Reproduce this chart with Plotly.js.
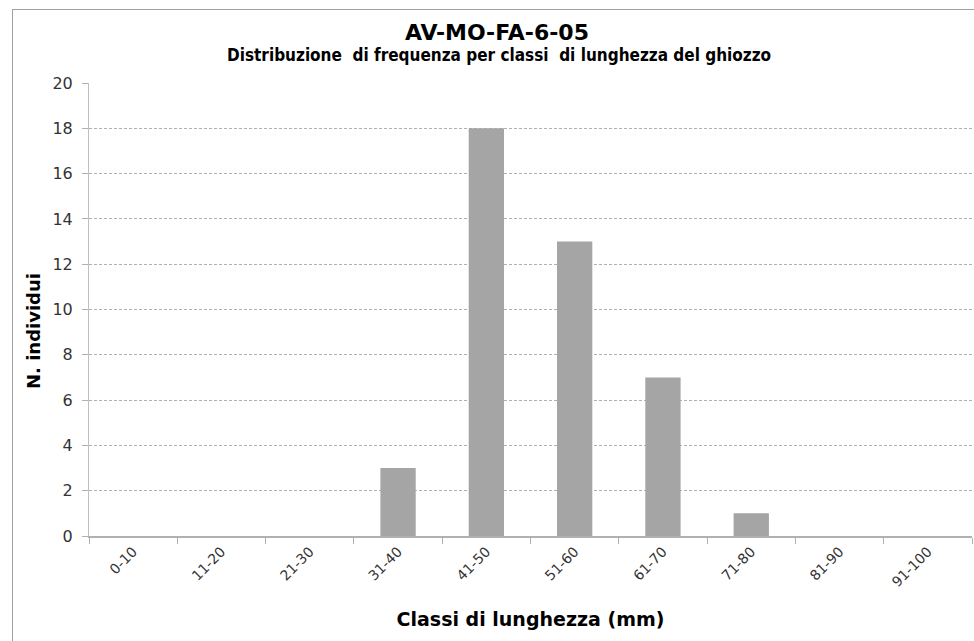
<!DOCTYPE html>
<html>
<head>
<meta charset="utf-8">
<script src="https://cdn.plot.ly/plotly-3.0.1.min.js"></script>
<style>
html,body{margin:0;padding:0;background:#fff;}
#frame{position:absolute;left:12px;top:9px;width:980px;height:650px;border-left:1px solid #a0a0a0;border-top:1px solid #a0a0a0;}
#chart{position:absolute;left:0;top:0;width:974px;height:641px;}
</style>
</head>
<body>
<div id="frame"></div>
<div id="chart"></div>
<script>
const categories = ['0-10','11-20','21-30','31-40','41-50','51-60','61-70','71-80','81-90','91-100'];
const counts = [0,0,0,3,18,13,7,1,0,0];
const titleText = 'AV-MO-FA-6-05';
const subtitleText = 'Distribuzione  di frequenza per classi  di lunghezza del ghiozzo';
const xTitle = 'Classi di lunghezza (mm)';
const yTitle = 'N. individui';

const trace = {
  type: 'bar',
  x: categories,
  y: counts,
  marker: {color: '#a5a5a5', line: {width: 0}},
  hoverinfo: 'x+y'
};

const layout = {
  width: 974, height: 641,
  paper_bgcolor: 'rgba(0,0,0,0)',
  plot_bgcolor: 'rgba(0,0,0,0)',
  margin: {l: 89, r: 2, t: 83, b: 105},
  bargap: 0.6,
  showlegend: false,
  title: {
    text: '<b>' + titleText + '</b>',
    font: {family: 'DejaVu Sans, sans-serif', size: 22, color: '#000'},
    x: 497/974, xref: 'container', xanchor: 'center',
    y: 1 - 32/641, yref: 'container', yanchor: 'middle'
  },
  annotations: [
    {
      text: '<b>' + subtitleText + '</b>',
      font: {family: 'DejaVu Sans Condensed, DejaVu Sans, sans-serif', size: 17, color: '#000'},
      xref: 'paper', yref: 'paper', x: (499 - 89) / 883, y: (536 - 55) / 453,
      xanchor: 'center', yanchor: 'middle', showarrow: false
    },
    {
      text: '<b>' + yTitle + '</b>',
      font: {family: 'DejaVu Sans, sans-serif', size: 18, color: '#000'},
      textangle: -90,
      xref: 'paper', yref: 'paper', x: (33 - 89) / 883, y: (536 - 331) / 453,
      xanchor: 'center', yanchor: 'middle', showarrow: false
    }
  ],
  xaxis: {
    type: 'category',
    tickson: 'boundaries',
    ticks: 'outside', ticklen: 6, tickcolor: '#b0b0b0', tickwidth: 1,
    tickangle: -45,
    tickfont: {family: 'DejaVu Sans, sans-serif', size: 14, color: '#333'},
    showline: true, linecolor: '#b0b0b0', linewidth: 2,
    showgrid: false, zeroline: false,
    title: {text: '<b>' + xTitle + '</b>', font: {family: 'DejaVu Sans, sans-serif', size: 19, color: '#000'}, standoff: 24}
  },
  yaxis: {
    range: [0, 20], dtick: 2,
    ticks: 'outside', ticklen: 6, tickcolor: '#b0b0b0',
    ticklabelstandoff: 6,
    tickfont: {family: 'DejaVu Sans, sans-serif', size: 16, color: '#333'},
    showline: true, linecolor: '#c0c0c0', linewidth: 1,
    showgrid: true, gridcolor: '#b0b0b0', griddash: '3px,2px', gridwidth: 1,
    zeroline: false
  }
};

Plotly.newPlot('chart', [trace], layout, {displayModeBar: false, staticPlot: true});
</script>
</body>
</html>
